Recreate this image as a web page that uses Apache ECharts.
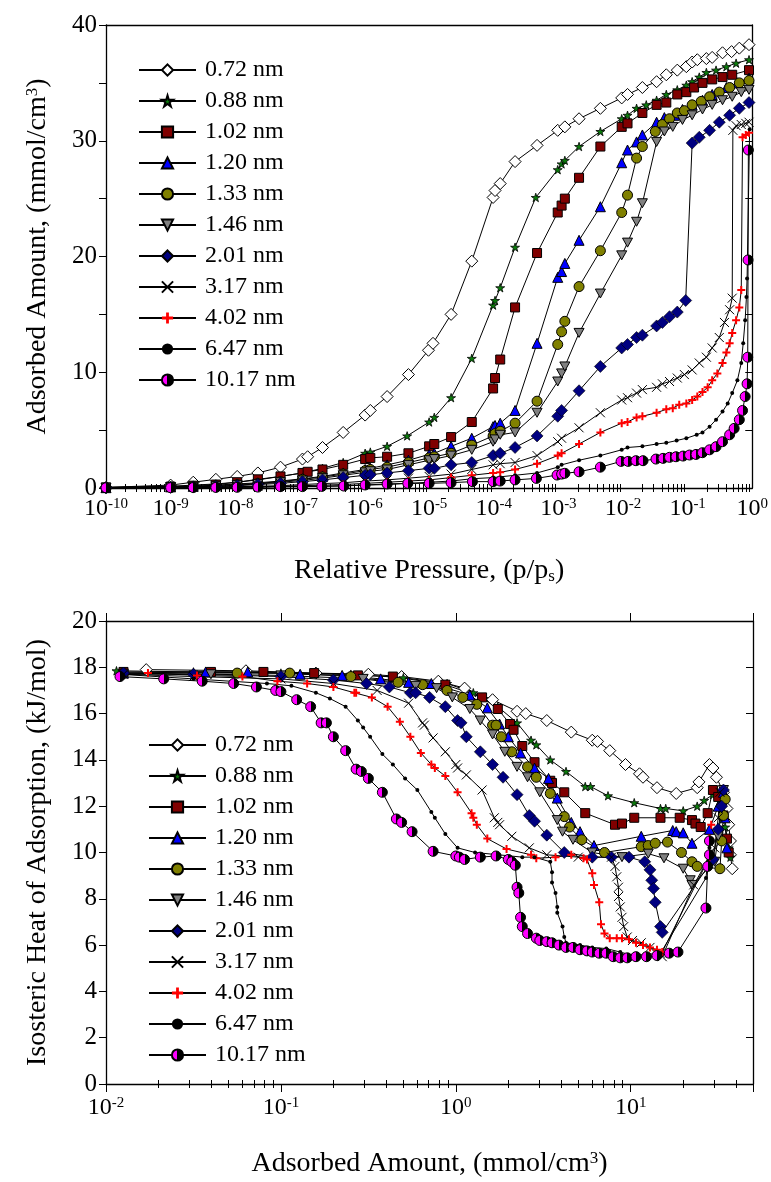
<!DOCTYPE html>
<html>
<head>
<meta charset="utf-8">
<script src="https://cdn.jsdelivr.net/npm/echarts@6/dist/echarts.min.js"></script>
<style>
html, body { margin: 0; padding: 0; background: #fff; }
#main { width: 771px; height: 1182px; }
</style>
</head>
<body>
<div id="main"></div>
<script>
// pore widths (legend names)
var poreNames = ['0.72 nm', '0.88 nm', '1.02 nm', '1.20 nm', '1.33 nm', '1.46 nm',
    '2.01 nm', '3.17 nm', '4.02 nm', '6.47 nm', '10.17 nm'];

// upper panel: [log10(p/ps), adsorbed amount mmol/cm3]
var ads072 = [[-10,0.05],[-9,0.25],[-8.65,0.5],[-8.3,0.75],[-7.97,1.0],[-7.65,1.3],[-7.3,1.8],[-6.96,2.5],[-6.88,2.7],[-6.65,3.5],[-6.33,4.8],[-5.99,6.3],[-5.91,6.7],[-5.65,7.9],[-5.32,9.8],[-5.01,11.9],[-4.94,12.5],[-4.66,15.0],[-4.34,19.6],[-4.01,25.1],[-3.98,25.7],[-3.9,26.3],[-3.67,28.2],[-3.33,29.6],[-3.01,30.9],[-2.9,31.2],[-2.68,31.9],[-2.35,32.8],[-2.02,33.7],[-1.93,34.0],[-1.7,34.6],[-1.48,35.1],[-1.33,35.7],[-1.16,36.1],[-1.02,36.4],[-0.93,36.8],[-0.85,37.0],[-0.71,37.1],[-0.62,37.2],[-0.46,37.6],[-0.32,37.7],[-0.2,38.0],[-0.05,38.3]];
var ads088 = [[-10,0.05],[-9,0.15],[-8.65,0.25],[-8.3,0.35],[-7.97,0.5],[-7.65,0.7],[-7.3,1.0],[-6.96,1.3],[-6.65,1.7],[-6.33,2.2],[-5.99,3.0],[-5.91,3.1],[-5.65,3.6],[-5.34,4.5],[-5.0,5.7],[-4.92,6.1],[-4.66,7.8],[-4.34,11.2],[-4.01,15.8],[-3.98,16.2],[-3.9,17.3],[-3.67,20.8],[-3.35,25.1],[-3.01,27.5],[-2.95,28.0],[-2.9,28.3],[-2.68,29.5],[-2.35,30.8],[-2.02,31.9],[-1.93,32.2],[-1.79,32.8],[-1.64,33.1],[-1.48,33.5],[-1.33,34.0],[-1.16,34.4],[-1.02,34.8],[-0.93,35.1],[-0.82,35.5],[-0.71,35.9],[-0.56,36.1],[-0.4,36.4],[-0.25,36.7],[-0.05,37.0]];
var ads102 = [[-10,0.05],[-9,0.12],[-8.65,0.2],[-8.3,0.3],[-7.97,0.5],[-7.65,0.75],[-7.3,1.0],[-6.96,1.3],[-6.88,1.4],[-6.65,1.6],[-6.33,2.0],[-5.99,2.5],[-5.91,2.6],[-5.65,2.7],[-5.32,3.0],[-5.0,3.6],[-4.92,3.8],[-4.66,4.4],[-4.34,5.7],[-4.01,8.6],[-3.98,9.5],[-3.9,11.1],[-3.67,15.6],[-3.33,20.3],[-3.01,23.8],[-2.95,24.4],[-2.9,25.0],[-2.68,26.8],[-2.35,29.5],[-2.02,31.2],[-1.93,31.5],[-1.7,32.4],[-1.48,33.1],[-1.33,33.3],[-1.16,34.0],[-1.02,34.2],[-0.9,34.6],[-0.77,35.0],[-0.62,35.3],[-0.46,35.5],[-0.31,35.7],[-0.05,36.1]];
var ads120 = [[-10,0.03],[-9,0.1],[-8.65,0.15],[-8.3,0.25],[-7.97,0.35],[-7.65,0.45],[-7.3,0.6],[-6.96,0.8],[-6.65,1.0],[-6.33,1.3],[-5.99,1.6],[-5.91,1.7],[-5.65,2.0],[-5.32,2.4],[-5.0,2.9],[-4.92,3.0],[-4.66,3.6],[-4.34,4.3],[-4.01,5.3],[-3.98,5.4],[-3.9,5.6],[-3.67,6.7],[-3.33,12.5],[-3.01,18.2],[-2.95,18.7],[-2.9,19.4],[-2.68,21.4],[-2.35,24.3],[-2.02,28.1],[-1.93,29.2],[-1.79,29.9],[-1.7,30.5],[-1.48,31.6],[-1.36,32.0],[-1.2,32.2],[-1.08,32.7],[-0.93,33.1],[-0.77,33.5],[-0.62,34.0],[-0.4,34.6],[-0.23,35.0],[-0.05,35.4]];
var ads133 = [[-10,0.03],[-9,0.08],[-8.65,0.12],[-8.3,0.2],[-7.97,0.3],[-7.65,0.4],[-7.3,0.55],[-6.96,0.75],[-6.65,0.95],[-6.33,1.2],[-5.99,1.5],[-5.91,1.6],[-5.65,1.8],[-5.32,2.2],[-5.0,2.6],[-4.92,2.7],[-4.66,3.0],[-4.34,3.7],[-4.01,4.5],[-3.98,4.7],[-3.9,4.9],[-3.67,5.6],[-3.33,7.5],[-3.01,12.4],[-2.95,13.5],[-2.9,14.4],[-2.68,17.4],[-2.35,20.5],[-2.02,23.8],[-1.93,25.3],[-1.79,28.5],[-1.7,29.5],[-1.5,30.8],[-1.39,31.4],[-1.28,31.9],[-1.16,32.4],[-1.05,32.6],[-0.93,33.1],[-0.79,33.4],[-0.66,33.8],[-0.51,34.2],[-0.35,34.6],[-0.2,35.0],[-0.05,35.2]];
var ads146 = [[-10,0.03],[-9,0.08],[-8.65,0.1],[-8.3,0.15],[-7.97,0.25],[-7.65,0.35],[-7.3,0.5],[-6.96,0.65],[-6.65,0.85],[-6.33,1.1],[-5.99,1.35],[-5.91,1.45],[-5.65,1.6],[-5.32,2.0],[-5.0,2.4],[-4.92,2.5],[-4.66,2.8],[-4.34,3.3],[-4.01,4.0],[-3.98,4.2],[-3.9,4.6],[-3.67,4.8],[-3.33,6.5],[-3.01,9.2],[-2.95,9.9],[-2.9,10.5],[-2.68,13.4],[-2.35,16.8],[-2.02,20.1],[-1.93,21.2],[-1.79,23.0],[-1.7,24.6],[-1.48,29.9],[-1.36,30.8],[-1.23,31.2],[-1.08,31.8],[-0.93,32.2],[-0.77,32.7],[-0.62,33.1],[-0.46,33.5],[-0.31,33.8],[-0.17,34.2],[-0.05,34.4]];
var ads201 = [[-10,0.02],[-9,0.05],[-8.65,0.08],[-8.3,0.12],[-7.97,0.2],[-7.65,0.3],[-7.3,0.4],[-6.96,0.55],[-6.65,0.7],[-6.33,0.9],[-5.99,1.1],[-5.91,1.15],[-5.65,1.3],[-5.32,1.5],[-5.0,1.7],[-4.92,1.7],[-4.66,2.0],[-4.34,2.2],[-4.01,2.8],[-3.9,3.0],[-3.67,3.5],[-3.33,4.5],[-3.01,6.2],[-2.95,6.7],[-2.68,8.4],[-2.35,10.5],[-2.02,12.1],[-1.93,12.4],[-1.79,13.0],[-1.7,13.2],[-1.48,14.0],[-1.39,14.3],[-1.28,14.8],[-1.16,15.2],[-1.03,16.2],[-0.93,29.8],[-0.82,30.3],[-0.66,30.9],[-0.51,31.6],[-0.35,32.2],[-0.2,32.8],[-0.05,33.3]];
var ads317 = [[-10,0.02],[-9,0.04],[-8.65,0.06],[-8.3,0.08],[-7.97,0.12],[-7.65,0.15],[-7.3,0.2],[-6.96,0.3],[-6.65,0.38],[-6.33,0.45],[-5.99,0.6],[-5.65,0.7],[-5.32,0.85],[-5.0,1.0],[-4.66,1.2],[-4.34,1.6],[-4.01,2.0],[-3.9,2.1],[-3.67,2.2],[-3.33,2.8],[-3.01,4.0],[-2.95,4.3],[-2.68,5.2],[-2.35,6.5],[-2.02,7.6],[-1.93,7.8],[-1.79,8.2],[-1.7,8.5],[-1.48,8.7],[-1.39,9.0],[-1.28,9.2],[-1.16,9.5],[-1.05,9.8],[-0.93,10.2],[-0.82,10.8],[-0.71,11.3],[-0.62,12.1],[-0.51,13.0],[-0.43,14.3],[-0.35,15.4],[-0.31,16.4],[-0.3,30.9],[-0.25,31.3],[-0.17,31.4],[-0.1,31.5],[-0.05,31.6]];
var ads402 = [[-10,0.02],[-9,0.03],[-8.65,0.05],[-8.3,0.06],[-7.97,0.08],[-7.65,0.1],[-7.3,0.15],[-6.96,0.2],[-6.65,0.25],[-6.33,0.3],[-5.99,0.4],[-5.65,0.5],[-5.32,0.6],[-5.0,0.7],[-4.66,0.9],[-4.34,1.1],[-4.01,1.3],[-3.9,1.35],[-3.67,1.6],[-3.33,2.1],[-3.01,2.8],[-2.95,3.0],[-2.68,3.8],[-2.35,4.8],[-2.02,5.6],[-1.93,5.7],[-1.79,6.1],[-1.7,6.2],[-1.48,6.5],[-1.33,6.8],[-1.23,6.9],[-1.13,7.2],[-1.02,7.3],[-0.93,7.6],[-0.85,7.9],[-0.77,8.3],[-0.69,8.7],[-0.62,9.3],[-0.54,9.9],[-0.46,10.8],[-0.4,11.7],[-0.35,12.5],[-0.31,13.4],[-0.25,14.5],[-0.2,15.6],[-0.17,17.1],[-0.15,30.3],[-0.1,30.5],[-0.05,30.7]];
var ads647 = [[-10,0.02],[-9,0.03],[-8.3,0.05],[-7.65,0.08],[-6.96,0.12],[-6.33,0.2],[-5.65,0.3],[-5.0,0.5],[-4.66,0.6],[-4.34,0.8],[-4.01,0.9],[-3.67,1.1],[-3.33,1.3],[-3.01,1.8],[-2.95,2.0],[-2.68,2.4],[-2.35,2.8],[-2.02,3.3],[-1.93,3.5],[-1.7,3.6],[-1.48,3.8],[-1.33,3.9],[-1.17,4.1],[-1.02,4.3],[-0.86,4.6],[-0.77,4.8],[-0.66,5.3],[-0.56,5.9],[-0.46,6.6],[-0.38,7.3],[-0.31,8.2],[-0.23,9.3],[-0.17,10.8],[-0.14,12.5],[-0.11,14.5],[-0.09,16.5],[-0.08,18.1],[-0.04,31.0]];
var ads1017 = [[-10,0.02],[-9,0.03],[-8.65,0.04],[-8.3,0.05],[-7.97,0.06],[-7.65,0.08],[-7.3,0.12],[-6.96,0.12],[-6.66,0.14],[-6.32,0.17],[-5.99,0.26],[-5.65,0.35],[-5.33,0.4],[-5.0,0.4],[-4.66,0.46],[-4.33,0.55],[-4.01,0.55],[-3.9,0.6],[-3.67,0.7],[-3.34,0.83],[-3.02,1.12],[-2.95,1.2],[-2.9,1.27],[-2.68,1.4],[-2.35,1.8],[-2.03,2.3],[-1.92,2.3],[-1.8,2.36],[-1.69,2.36],[-1.49,2.5],[-1.38,2.56],[-1.28,2.65],[-1.18,2.7],[-1.07,2.76],[-0.97,2.85],[-0.87,2.9],[-0.77,3.05],[-0.66,3.3],[-0.56,3.57],[-0.46,4.0],[-0.35,4.6],[-0.28,5.15],[-0.2,5.9],[-0.15,6.7],[-0.11,7.9],[-0.08,9.0],[-0.07,11.3],[-0.065,19.7],[-0.06,29.2]];

// lower panel: [log10(adsorbed amount), isosteric heat kJ/mol]
var heat072 = [[-1.77,17.9],[-1.2,17.85],[-0.8,17.75],[-0.5,17.7],[-0.31,17.6],[-0.1,17.4],[0.05,17.1],[0.21,16.6],[0.35,16.1],[0.4,16.0],[0.52,15.7],[0.66,15.2],[0.78,14.85],[0.81,14.8],[0.88,14.4],[0.97,13.8],[1.05,13.4],[1.07,13.25],[1.15,12.8],[1.26,12.55],[1.38,12.8],[1.39,13.05],[1.45,13.8],[1.47,13.65],[1.49,13.25],[1.53,12.6],[1.55,11.9],[1.56,11.2],[1.57,10.5],[1.57,9.9],[1.58,9.3]];
var heat088 = [[-1.94,17.85],[-1.5,17.8],[-1.0,17.75],[-0.6,17.7],[-0.3,17.55],[-0.05,17.3],[0.1,16.9],[0.24,16.3],[0.35,15.6],[0.43,14.85],[0.46,14.65],[0.54,14.0],[0.63,13.5],[0.74,12.85],[0.77,12.85],[0.87,12.45],[1.02,12.15],[1.17,11.9],[1.2,11.9],[1.3,11.8],[1.38,12.0],[1.42,12.25],[1.47,12.5],[1.52,12.0],[1.54,11.1],[1.56,10.2],[1.57,9.8]];
var heat102 = [[-1.9,17.8],[-1.4,17.8],[-1.1,17.8],[-0.81,17.75],[-0.56,17.65],[-0.36,17.6],[-0.06,17.25],[0.15,16.7],[0.24,16.2],[0.31,15.55],[0.33,15.3],[0.38,14.6],[0.45,13.9],[0.54,13.1],[0.55,13.0],[0.62,12.6],[0.74,11.7],[0.91,11.2],[0.95,11.25],[1.02,11.5],[1.17,11.5],[1.28,11.5],[1.35,11.4],[1.37,11.25],[1.4,11.1],[1.44,11.7],[1.47,12.7],[1.5,12.4],[1.53,11.6],[1.55,10.6],[1.56,10.0]];
var heat120 = [[-1.9,17.75],[-1.43,17.8],[-1.19,17.8],[-0.89,17.7],[-0.65,17.65],[-0.43,17.5],[-0.27,17.35],[-0.14,17.3],[0.08,16.8],[0.18,16.25],[0.25,15.55],[0.3,15.0],[0.37,14.3],[0.45,13.65],[0.53,13.2],[0.58,12.35],[0.66,11.3],[0.71,10.9],[0.79,10.3],[1.06,10.7],[1.24,10.95],[1.26,10.9],[1.3,10.85],[1.35,10.4],[1.45,11.0],[1.5,12.0],[1.53,12.6],[1.54,11.5],[1.55,10.2]];
var heat133 = [[-1.9,17.75],[-1.25,17.75],[-0.95,17.75],[-0.6,17.6],[-0.33,17.35],[-0.19,17.25],[-0.05,17.0],[0.04,16.7],[0.12,16.4],[0.21,15.5],[0.23,15.5],[0.26,15.0],[0.32,14.35],[0.41,13.7],[0.46,13.25],[0.54,12.55],[0.62,11.55],[0.65,11.1],[0.72,10.55],[0.85,10.0],[1.06,10.25],[1.1,10.3],[1.14,10.4],[1.21,10.45],[1.29,10.0],[1.35,9.6],[1.38,9.4],[1.51,9.3],[1.52,10.5],[1.53,11.6],[1.54,12.3]];
var heat146 = [[-1.9,17.7],[-1.4,17.7],[-1.0,17.65],[-0.53,17.5],[-0.23,17.2],[-0.11,17.1],[-0.02,16.7],[0.08,16.2],[0.14,15.7],[0.21,15.1],[0.28,14.35],[0.35,13.7],[0.41,13.25],[0.48,12.6],[0.58,11.4],[0.61,10.9],[0.67,10.55],[0.78,10.0],[0.95,9.8],[1.1,9.95],[1.19,9.75],[1.3,9.3],[1.34,8.8],[1.35,8.6],[1.48,9.6],[1.5,10.7],[1.52,11.9],[1.53,12.7]];
var heat201 = [[-1.9,17.75],[-1.5,17.7],[-1.0,17.6],[-0.7,17.45],[-0.51,17.3],[-0.38,17.15],[-0.26,16.9],[-0.23,16.9],[-0.15,16.7],[-0.06,16.3],[0.01,15.7],[0.03,15.6],[0.06,15.0],[0.14,14.35],[0.21,13.8],[0.27,13.25],[0.35,12.5],[0.42,11.6],[0.45,11.35],[0.52,10.75],[0.62,10.0],[0.78,9.8],[0.89,9.8],[0.99,9.8],[1.08,9.6],[1.11,9.25],[1.12,8.8],[1.13,8.45],[1.14,7.85],[1.17,6.8],[1.18,6.55],[1.47,9.7],[1.5,11.0],[1.52,12.0],[1.53,12.7]];
var heat317 = [[-1.9,17.7],[-1.5,17.6],[-1.0,17.5],[-0.7,17.3],[-0.45,17.0],[-0.27,16.45],[-0.19,15.6],[-0.18,15.5],[-0.13,14.95],[-0.06,14.35],[0.0,13.8],[0.01,13.65],[0.06,13.35],[0.15,12.7],[0.22,11.5],[0.24,11.3],[0.25,11.2],[0.32,10.7],[0.42,10.2],[0.52,9.9],[0.7,9.8],[0.89,9.8],[0.91,9.4],[0.92,8.95],[0.93,8.5],[0.93,8.1],[0.94,7.65],[0.95,7.2],[0.96,6.8],[0.98,6.35],[1.01,6.2],[1.06,6.1],[1.11,5.9],[1.17,5.65],[1.18,5.5],[1.36,8.6],[1.48,10.2],[1.5,11.5],[1.51,12.6]];
var heat402 = [[-1.76,17.75],[-1.48,17.65],[-1.22,17.6],[-1.02,17.4],[-0.85,17.3],[-0.7,17.15],[-0.58,16.9],[-0.57,16.9],[-0.48,16.7],[-0.39,16.3],[-0.32,15.65],[-0.26,15.0],[-0.2,14.3],[-0.14,13.8],[-0.12,13.65],[-0.06,13.3],[0.01,12.6],[0.09,11.7],[0.1,11.5],[0.12,11.2],[0.18,10.6],[0.29,10.15],[0.43,9.9],[0.46,9.75],[0.57,9.8],[0.66,9.9],[0.73,9.75],[0.75,9.7],[0.78,9.1],[0.79,8.6],[0.82,7.85],[0.83,6.9],[0.85,6.5],[0.88,6.3],[0.92,6.3],[0.95,6.3],[0.99,6.25],[1.03,6.1],[1.07,6.0],[1.11,5.9],[1.15,5.8],[1.18,5.7],[1.45,9.8],[1.45,10.6],[1.46,11.2]];
var heat647 = [[-1.92,17.7],[-1.5,17.5],[-1.08,17.3],[-0.94,17.2],[-0.8,16.9],[-0.72,16.65],[-0.63,16.3],[-0.56,15.7],[-0.53,15.4],[-0.49,15.0],[-0.42,14.25],[-0.36,13.8],[-0.29,13.2],[-0.22,12.7],[-0.14,11.75],[-0.12,11.5],[-0.06,10.8],[0.01,10.2],[0.11,10.0],[0.38,9.8],[0.45,9.8],[0.54,9.6],[0.55,9.15],[0.55,8.7],[0.57,8.25],[0.58,7.65],[0.58,7.4],[0.61,6.8],[0.62,6.35],[0.63,6.1],[0.71,6.0],[0.78,5.9],[0.86,5.85],[0.94,5.7],[1.01,5.55],[1.17,5.65],[1.43,8.9],[1.44,9.6],[1.45,10.2]];
var heat1017 = [[-1.92,17.6],[-1.67,17.5],[-1.45,17.4],[-1.27,17.3],[-1.14,17.15],[-1.03,17.0],[-1.0,16.95],[-0.91,16.6],[-0.83,16.3],[-0.77,15.6],[-0.74,15.6],[-0.7,15.0],[-0.63,14.4],[-0.57,13.6],[-0.54,13.5],[-0.5,13.2],[-0.42,12.6],[-0.34,11.45],[-0.31,11.3],[-0.25,10.9],[-0.13,10.05],[0.0,9.85],[0.02,9.8],[0.05,9.7],[0.14,9.8],[0.23,9.85],[0.3,9.7],[0.32,9.6],[0.34,9.45],[0.35,8.5],[0.36,8.25],[0.37,7.2],[0.38,6.8],[0.41,6.5],[0.46,6.3],[0.48,6.2],[0.52,6.15],[0.55,6.1],[0.59,6.0],[0.63,5.9],[0.67,5.9],[0.71,5.8],[0.75,5.75],[0.78,5.7],[0.82,5.65],[0.86,5.65],[0.9,5.5],[0.94,5.45],[0.98,5.45],[1.03,5.5],[1.09,5.5],[1.15,5.55],[1.22,5.65],[1.27,5.7],[1.43,7.6],[1.44,9.4],[1.45,9.9],[1.45,10.5]];

var adsSets = [ads072, ads088, ads102, ads120, ads133, ads146, ads201, ads317, ads402, ads647, ads1017];
var heatSets = [heat072, heat088, heat102, heat120, heat133, heat146, heat201, heat317, heat402, heat647, heat1017];

// axis label decades
var topDecades = [-10, -9, -8, -7, -6, -5, -4, -3, -2, -1, 0];
var botDecades = [-2, -1, 0, 1];

var FONT = 'Liberation Serif';
var STAR = 'path://M50,0L61,35L98,35L68,57L79,91L50,70L21,91L32,57L2,35L39,35Z';
var DOWN = 'path://M0,0L10,0L5,9Z';
var CROSS = 'path://M0,0L10,10M10,0L0,10';
var PLUS = 'path://M3,0H5V3H8V5H5V8H3V5H0V3H3Z';
var halfFill = new echarts.graphic.LinearGradient(0, 0, 1, 0, [
    { offset: 0, color: '#ff00ff' }, { offset: 0.5, color: '#ff00ff' },
    { offset: 0.5, color: '#000000' }, { offset: 1, color: '#000000' }
]);

var marks = [
    { symbol: 'diamond', size: 12, color: '#ffffff', bw: 1 },
    { symbol: STAR, size: 9, color: '#0b7a0b', bw: 0.8 },
    { symbol: 'rect', size: 9, color: '#800000', bw: 1 },
    { symbol: 'triangle', size: 10, color: '#0000ff', bw: 1 },
    { symbol: 'circle', size: 10, color: '#808000', bw: 1 },
    { symbol: DOWN, size: 10, color: '#808080', bw: 1 },
    { symbol: 'diamond', size: 12, color: '#000080', bw: 0.6 },
    { symbol: CROSS, size: 9, color: '#000000', bw: 1 },
    { symbol: PLUS, size: 8, color: '#ff0000', bw: 0 },
    { symbol: 'circle', size: 4, color: '#000000', bw: 0 },
    { symbol: 'circle', size: 10, color: halfFill, bw: 1 }
];

function pow10(e) { return Math.pow(10, e); }

function powLabel(v) {
    var e = Math.round(Math.log10(v));
    return '{b|10}{s|' + e + '}';
}

var labelRich = {
    b: { fontFamily: FONT, fontSize: 24, color: '#000' },
    s: { fontFamily: FONT, fontSize: 15, color: '#000', verticalAlign: 'top' }
};
var nameRich = {
    sup: { fontFamily: FONT, fontSize: 17, color: '#000', verticalAlign: 'top' },
    sub: { fontFamily: FONT, fontSize: 17, color: '#000', verticalAlign: 'bottom' }
};
var lineBlack = { color: '#000', width: 1.3 };

// log x axis with decade ticks
function logX(grid, min, max, pos, inside, labels, name, gap) {
    return {
        type: 'log', gridIndex: grid, position: pos, min: min, max: max,
        axisLine: { show: true, onZero: false, lineStyle: lineBlack },
        axisTick: { show: true, inside: inside, length: 8, lineStyle: { color: '#000', width: 1 } },
        axisLabel: labels ? {
            show: true, margin: 9, customValues: labels, formatter: powLabel, rich: labelRich
        } : { show: false },
        splitLine: { show: false },
        name: name || '',
        nameLocation: 'middle',
        nameGap: gap || 60,
        nameTextStyle: { fontFamily: FONT, fontSize: 28, color: '#000', rich: nameRich }
    };
}

// minor log ticks (2..9 per decade): a fine, unlabelled category axis over the
// same log10 span, showing a tick only at the slots nearest log10(k) + decade
function minorAxis(grid, pos, lo, hi, steps, inside) {
    var cats = [];
    for (var i = 0; i <= steps; i++) cats.push(String(i));
    var step = (hi - lo) / steps;
    var on = {};
    for (var d = Math.floor(lo); d < Math.ceil(hi); d++) {
        for (var k = 2; k < 10; k++) {
            var x = d + Math.log10(k);
            if (x > lo && x < hi) on[Math.round((x - lo) / step)] = true;
        }
    }
    return {
        type: 'category', gridIndex: grid, position: pos, data: cats, boundaryGap: false,
        axisLine: { show: false },
        axisLabel: { show: false },
        axisTick: {
            show: true, inside: inside, length: 4, lineStyle: { color: '#000', width: 1 },
            interval: function (idx) { return !!on[idx]; }
        },
        splitLine: { show: false }
    };
}

var xAxes = [
    logX(0, 1e-10, 1, 'bottom', true, topDecades.map(pow10), 'Relative Pressure, (p/p{sub|s})', 69),
    logX(0, 1e-10, 1, 'top', true),
    logX(1, 0.01, 50, 'bottom', false, botDecades.map(pow10), 'Adsorbed Amount, (mmol/cm{sup|3})', 66),
    logX(1, 0.01, 50, 'top', false),
    minorAxis(0, 'bottom', -10, 0, 2000, true),
    minorAxis(0, 'top', -10, 0, 2000, true),
    minorAxis(1, 'bottom', -2, Math.log10(50), 3699, false),
    minorAxis(1, 'top', -2, Math.log10(50), 3699, false)
];
xAxes[2].axisLabel.margin = 12;

function valY(grid, pos, max, step, labelStep, inside, name) {
    return {
        type: 'value', gridIndex: grid, position: pos, min: 0, max: max, interval: step,
        axisLine: { show: true, onZero: false, lineStyle: lineBlack },
        axisTick: { show: true, inside: inside, length: 7, lineStyle: { color: '#000', width: 1 } },
        axisLabel: name ? {
            show: true, margin: 9, fontFamily: FONT, fontSize: 25, color: '#000',
            formatter: function (v) { return v % labelStep === 0 ? String(v) : ''; }
        } : { show: false },
        splitLine: { show: false },
        name: name || '',
        nameLocation: 'middle',
        nameRotate: 90,
        nameGap: 54,
        nameTextStyle: { fontFamily: FONT, fontSize: 28, color: '#000', rich: nameRich }
    };
}

var yAxes = [
    valY(0, 'left', 40, 5, 10, false, 'Adsorbed Amount, (mmol/cm{sup|3})'),
    valY(0, 'right', 40, 5, 10, true),
    valY(1, 'left', 20, 2, 2, false, 'Isosteric Heat of Adsorption, (kJ/mol)'),
    valY(1, 'right', 20, 2, 2, true)
];

var series = [];
function addSeries(sets, xi, yi) {
    sets.forEach(function (pts, i) {
        var m = marks[i];
        series.push({
            name: poreNames[i],
            type: 'line',
            xAxisIndex: xi,
            yAxisIndex: yi,
            symbol: m.symbol,
            symbolSize: m.size,
            symbolKeepAspect: true,
            showAllSymbol: true,
            itemStyle: { color: m.color, borderColor: '#000', borderWidth: m.bw },
            lineStyle: { color: '#000', width: 1 },
            emphasis: { disabled: true },
            data: pts.map(function (d) { return [pow10(d[0]), d[1]]; })
        });
    });
}
addSeries(adsSets, 0, 0);
addSeries(heatSets, 2, 2);

function legendAt(left, top) {
    return {
        orient: 'vertical', left: left, top: top,
        itemWidth: 57, itemHeight: 14, itemGap: 7,
        data: poreNames,
        selectedMode: false,
        textStyle: { fontFamily: FONT, fontSize: 24, lineHeight: 24, color: '#000', padding: [0, 0, 0, 4] }
    };
}

var myChart = echarts.init(document.getElementById('main'));
var option = {
    animation: false,
    backgroundColor: '#fff',
    grid: [
        { left: 106, top: 25, width: 647, height: 463 },
        { left: 106, top: 621, width: 647, height: 463 }
    ],
    legend: [legendAt(133, 53), legendAt(143, 728)],
    xAxis: xAxes,
    yAxis: yAxes,
    series: series
};

option && myChart.setOption(option);
</script>
</body>
</html>
